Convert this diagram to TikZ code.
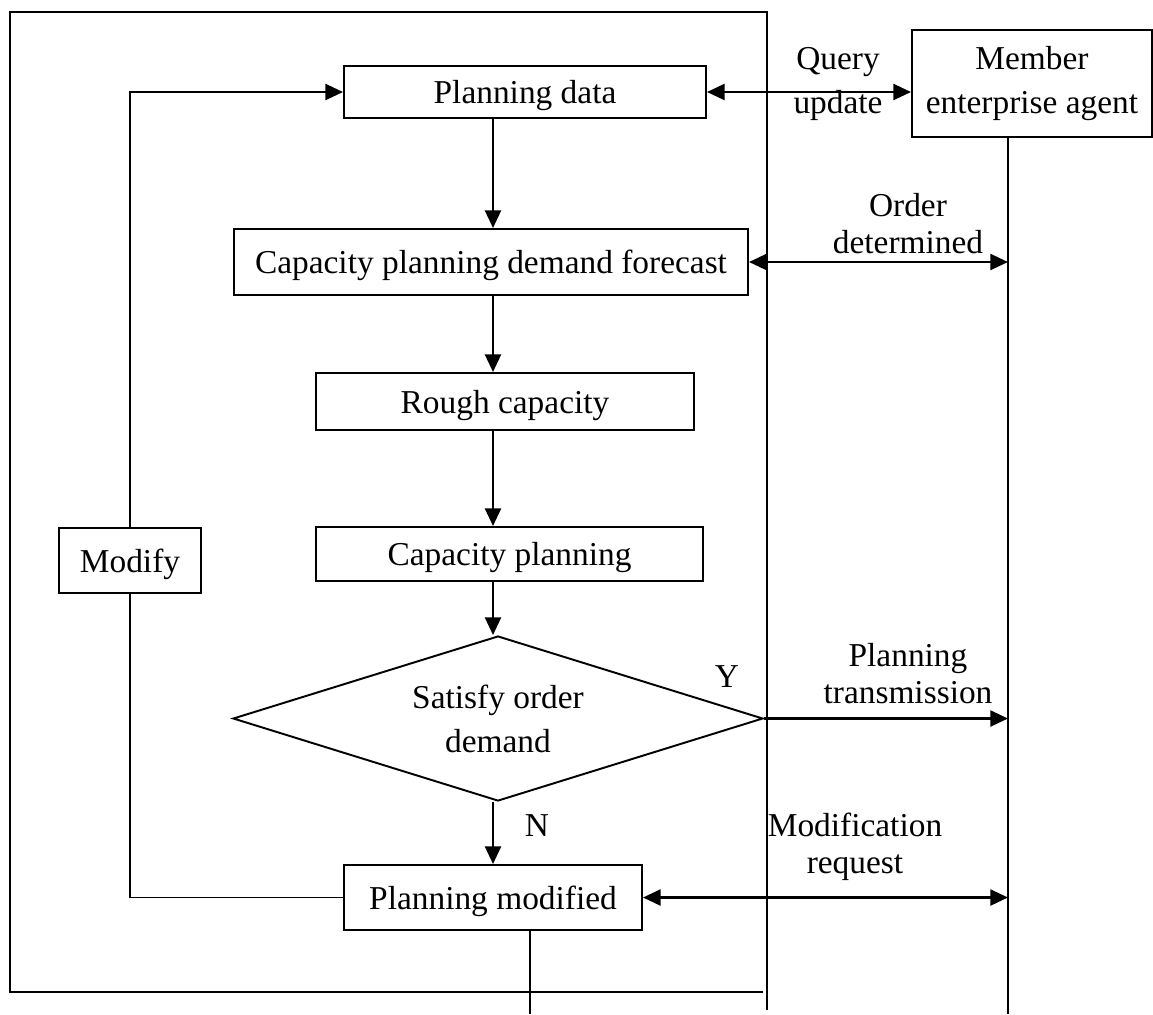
\documentclass[tikz,border=0pt]{standalone}
\usepackage{fontspec}
\setmainfont{Liberation Serif}
\usetikzlibrary{calc}
\usetikzlibrary{arrows.meta}
\usetikzlibrary{shapes.geometric}

\begin{document}
\begin{tikzpicture}
    \tikzstyle{b}=[shape=rectangle,draw,line width=1.1pt,inner sep=0pt,font=\fontsize{19}{21}\selectfont]
    \tikzstyle{t}=[align=center,inner sep=0pt,font=\fontsize{19}{21}\selectfont]
    \tikzstyle{a}=[line width=1.5pt,-{Triangle[length=10pt,width=9pt]}]
    \tikzstyle{aa}=[line width=1.5pt,{Triangle[length=10pt,width=9pt]}-{Triangle[length=10pt,width=9pt]}]
    \tikzstyle{l}=[line width=1.1pt]

    \useasboundingbox (0,0) rectangle (23.06,-20.28);

    % frame
    \draw[l] (15.26,-19.84) -- (0.2,-19.84) -- (0.2,-0.24) -- (15.34,-0.24) -- (15.34,-20.2);

    % planning data
    \coordinate (pdata_c) at (10.5,-1.84);
    \node[b,text depth=0pt,minimum width=7.24cm,minimum height=1.04cm] (pdata) at (pdata_c) {Planning data};

    % member agent
    \coordinate (member_c) at (20.64,-1.67);
    \node[b,align=center,minimum width=4.8cm,minimum height=2.14cm,font=\fontsize{19}{25}\selectfont] (member) at (member_c) {Member\\enterprise agent};
    \coordinate (life) at (20.16,-20.28);
    \draw[l] (member.south -| life) -- (life);

    \draw[aa] (pdata.east) -- (pdata.east -| member.west);
    \node[t,font=\fontsize{19}{25}\selectfont] (query) at (16.76,-1.68) {Query\\update};

    % demand forecast
    \coordinate (spine) at (9.86,0);
    \coordinate (cpdf_c) at (9.82,-5.24);
    \node[b,text depth=0pt,minimum width=10.28cm,minimum height=1.32cm] (cpdf) at (cpdf_c) {Capacity planning demand forecast};

    \draw[a] (pdata.south -| spine) -- (cpdf.north -| spine);
    \draw[aa] (cpdf.east) -- (cpdf.east -| life);
    \node[t] (order) at (18.16,-4.47) {Order\\determined};

    % rough capacity
    \coordinate (rough_c) at (10.1,-8.03);
    \node[b,text depth=0pt,minimum width=7.56cm,minimum height=1.14cm] (rough) at (rough_c) {Rough capacity};

    \draw[a] (cpdf.south -| spine) -- (rough.north -| spine);

    % capacity planning
    \coordinate (cplan_c) at (10.19,-11.08);
    \node[b,text depth=0pt,minimum width=7.74cm,minimum height=1.08cm] (cplan) at (cplan_c) {Capacity planning};

    \draw[a] (rough.south -| spine) -- (cplan.north -| spine);

    % decision
    \coordinate (dec_c) at (9.96,-14.37);
    \node[b,shape=diamond,aspect=3.2,align=center,minimum width=10.6cm,minimum height=3.3cm,font=\fontsize{19}{25}\selectfont] (dec) at (dec_c) {Satisfy order\\demand};

    \draw[a] (cplan.south -| spine) -- (dec.north -| spine);
    \draw[a] (dec.east) -- (dec.east -| life);
    \node[t] (yes) at (14.54,-13.54) {Y};
    \node[t] (trans) at (18.16,-13.47) {Planning\\transmission};

    % planning modified
    \coordinate (pmod_c) at (9.86,-17.95);
    \node[b,text depth=0pt,minimum width=5.96cm,minimum height=1.3cm] (pmod) at (pmod_c) {Planning modified};

    \draw[a] (dec.south -| spine) -- (pmod.north -| spine);
    \node[t] (no) at (10.74,-16.52) {N};
    \draw[aa] (pmod.east) -- (pmod.east -| life);
    \node[t] (modreq) at (17.1,-16.93) {Modification\\request};
    \coordinate (out) at (10.6,-20.28);
    \draw[l] (pmod.south -| out) -- (out);

    % modify loop
    \coordinate (modify_c) at (2.6,-11.21);
    \node[b,text depth=0pt,minimum width=2.84cm,minimum height=1.3cm] (modify) at (modify_c) {Modify};

    \draw[l] (pmod.west) -| (modify.south);
    \draw[a] (modify.north) |- (pdata.west);
\end{tikzpicture}
\end{document}
